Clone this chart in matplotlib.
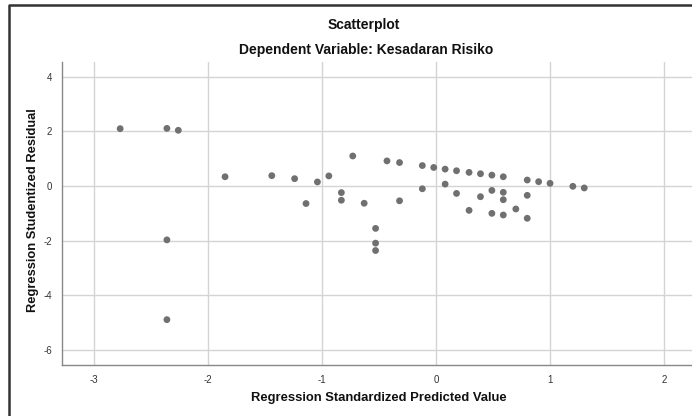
import matplotlib
matplotlib.use('Agg')
import matplotlib.pyplot as plt
from matplotlib.lines import Line2D

#-- dati
pred_x = [-2.77, -2.36, -2.26, -2.36, -2.36,
          -1.85, -1.44, -1.24, -1.14, -1.04, -0.94,
          -0.83, -0.83, -0.73, -0.63, -0.53, -0.53, -0.53,
          -0.43, -0.32, -0.32, -0.12, -0.12, -0.02,
          0.08, 0.08, 0.18, 0.18, 0.29, 0.29, 0.39, 0.39,
          0.49, 0.49, 0.49, 0.59, 0.59, 0.59, 0.59, 0.70,
          0.80, 0.80, 0.80, 0.90, 1.00, 1.20, 1.30]
resid_y = [2.10, 2.11, 2.04, -1.97, -4.89,
           0.34, 0.38, 0.27, -0.64, 0.15, 0.37,
           -0.24, -0.52, 1.10, -0.63, -1.55, -2.09, -2.36,
           0.92, 0.86, -0.54, 0.75, -0.10, 0.68,
           0.62, 0.07, 0.56, -0.27, 0.50, -0.89, 0.45, -0.39,
           0.40, -0.16, -1.00, 0.34, -0.23, -0.50, -1.06, -0.84,
           0.22, -0.34, -1.18, 0.16, 0.10, -0.01, -0.07]
x_ticks = [-3, -2, -1, 0, 1, 2]
y_ticks = [-6, -4, -2, 0, 2, 4]
title = "Scatterplot"
subtitle = "Dependent Variable: Kesadaran Risiko"
label_x = "Regression Standardized Predicted Value"
label_y = "Regression Studentized Residual"
#--

plt.rcParams['font.family'] = ['Liberation Sans', 'DejaVu Sans']
plt.rcParams['axes.unicode_minus'] = False

#-- stampa grafico
fig = plt.figure(figsize=(6.92, 4.16), dpi=100)
ax = fig.add_axes([62/692, 1-365/416, 1-62/692, (365-62)/416])
ax.scatter(pred_x, resid_y, s=24, color='#707070', edgecolors='none', zorder=3)
#--

#-- formattazione grafico
ax.set_xlim(-3.28, 2.245)
ax.set_ylim(-6.55, 4.54)
ax.set_xticks(x_ticks)
ax.set_yticks(y_ticks)
ax.tick_params(length=0, labelsize=7, colors='#333333', pad=7)
ax.grid(color='#d4d4d4', linewidth=1.0)
ax.set_axisbelow(True)
for s in ['top', 'right']:
    ax.spines[s].set_visible(False)
for s in ['left', 'bottom']:
    ax.spines[s].set_color('#888888')
    ax.spines[s].set_linewidth(1.0)

fig.text(364/692, 1-25/416, title, ha='center', va='center', fontsize=10, fontweight='bold', color='#111111')
fig.text(366/692, 1-50/416, subtitle, ha='center', va='center', fontsize=10, fontweight='bold', color='#111111')
fig.text(379/692, 1-398/416, label_x, ha='center', va='center', fontsize=9.4, fontweight='bold', color='#111111')
fig.text(33/692, 1-210/416, label_y, ha='center', va='center', rotation=90, fontsize=9.3, fontweight='bold', color='#111111')
#--

#-- cornice esterna
fig.add_artist(Line2D([9/692, 9/692, 1], [0, 1-5/416, 1-5/416], transform=fig.transFigure,
                      color='#333333', linewidth=1.8))
#--

fig.savefig("out.png", dpi=100)
plt.close("all")
